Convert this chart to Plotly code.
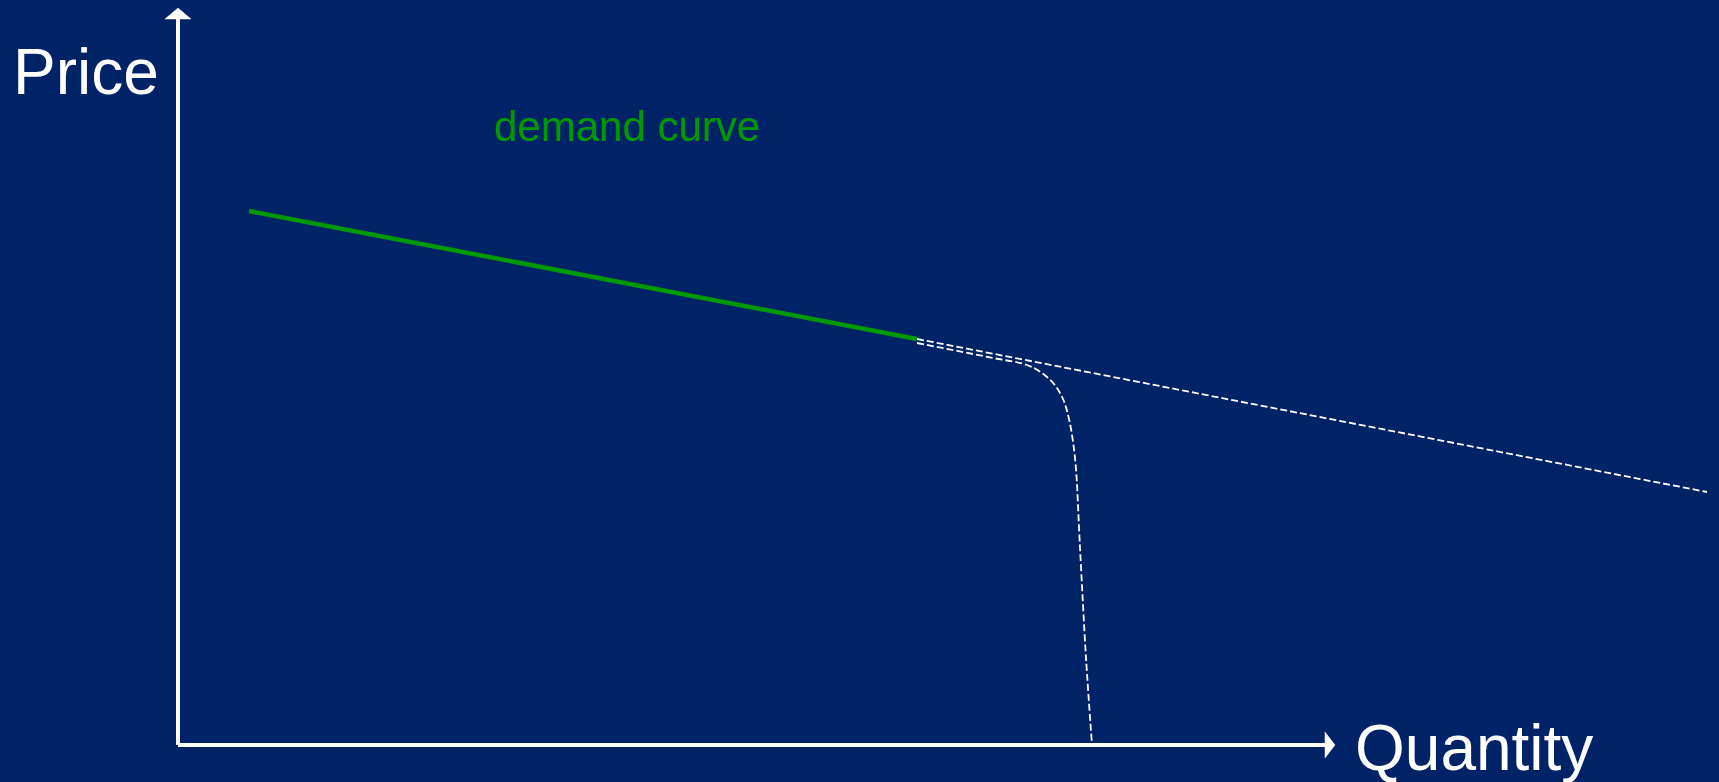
import plotly.graph_objects as go

# Data (Quantity, Price)
demand_q = [7.1, 73.9]
demand_p = [53.4, 40.6]

extension_q = [73.9, 152.9]
extension_p = [40.6, 25.3]

kinked_q = [73.9, 81.5, 84.9, 86.4, 87.6, 88.5, 89.1, 89.7, 90.2, 90.8, 91.4]
kinked_p = [40.2, 38.7, 38.0, 37.2, 36.1, 34.6, 32.6, 28.7, 19.7, 8.7, 0.0]

axis_q_end = 114.7
axis_p_end = 72.6
arrow_len = 1.0
arrow_half = 1.3

BG = "#002266"
GREEN = "#009900"
WHITE = "#ffffff"
FONT = "Liberation Sans, Arial, sans-serif"

fig = go.Figure()

fig.add_trace(go.Scatter(x=extension_q, y=extension_p, mode="lines",
                         line=dict(color=WHITE, width=1.8, dash="7px,3px"),
                         hoverinfo="skip", showlegend=False))
fig.add_trace(go.Scatter(x=kinked_q, y=kinked_p, mode="lines",
                         line=dict(color=WHITE, width=1.8, dash="7px,3px", shape="spline", smoothing=1.0),
                         hoverinfo="skip", showlegend=False))
fig.add_trace(go.Scatter(x=demand_q, y=demand_p, mode="lines",
                         line=dict(color=GREEN, width=4.5),
                         hoverinfo="skip", showlegend=False))

# Axes with arrowheads
fig.add_shape(type="line", x0=0, y0=0, x1=0, y1=axis_p_end,
              line=dict(color=WHITE, width=4), xref="x", yref="y")
fig.add_shape(type="line", x0=0, y0=0, x1=axis_q_end, y1=0,
              line=dict(color=WHITE, width=4), xref="x", yref="y")
fig.add_shape(type="path",
              path=f"M {-arrow_half} {axis_p_end} L 0 {axis_p_end + arrow_len + 0.1} L {arrow_half} {axis_p_end} Z",
              fillcolor=WHITE, line=dict(color=WHITE, width=0.5), xref="x", yref="y")
fig.add_shape(type="path",
              path=f"M {axis_q_end} {-arrow_half} L {axis_q_end + arrow_len} 0 L {axis_q_end} {arrow_half} Z",
              fillcolor=WHITE, line=dict(color=WHITE, width=0.5), xref="x", yref="y")

fig.add_annotation(text="Price", x=-16.7, y=67.3, xref="x", yref="y",
                   xanchor="left", yanchor="middle", showarrow=False,
                   font=dict(family=FONT, size=64, color=WHITE))
fig.add_annotation(text="Quantity", x=117.5, y=-0.3, xref="x", yref="y",
                   xanchor="left", yanchor="middle", showarrow=False,
                   font=dict(family=FONT, size=64, color=WHITE))
fig.add_annotation(text="demand curve", x=31.4, y=61.9, xref="x", yref="y",
                   xanchor="left", yanchor="middle", showarrow=False,
                   font=dict(family=FONT, size=42, color=GREEN))

fig.update_layout(
    width=1719, height=782,
    margin=dict(l=0, r=0, t=0, b=0),
    paper_bgcolor=BG, plot_bgcolor=BG,
    xaxis=dict(range=[-17.8, 154.1], visible=False, fixedrange=True),
    yaxis=dict(range=[-3.7, 74.5], visible=False, fixedrange=True),
    showlegend=False,
)

fig.write_html("out.html", config={"displayModeBar": False})
